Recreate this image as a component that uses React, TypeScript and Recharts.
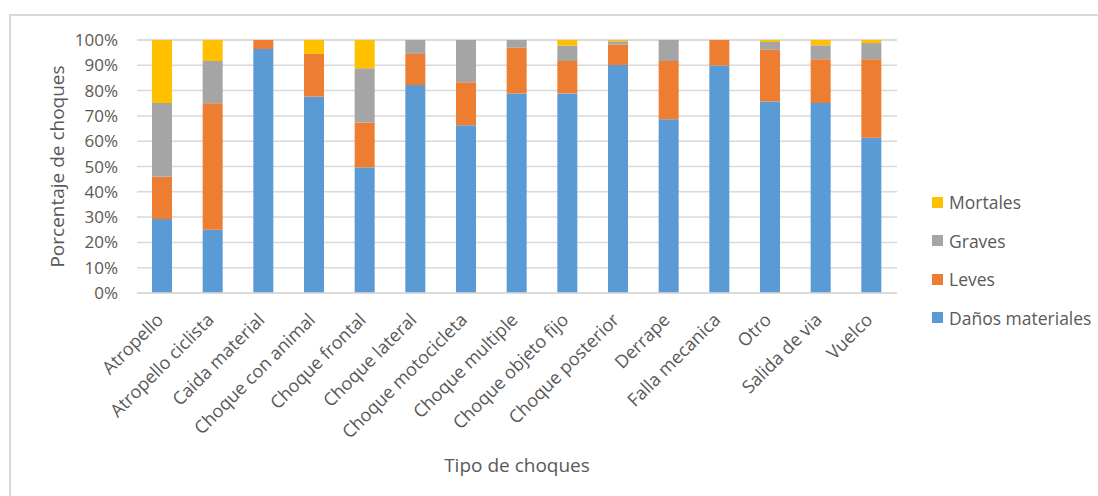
import React from "react";
import { BarChart, Bar, XAxis, YAxis, CartesianGrid, Label } from "recharts";

// Collision types along the category axis
const categories = [
  "Atropello",
  "Atropello ciclista",
  "Caida material",
  "Choque con animal",
  "Choque frontal",
  "Choque lateral",
  "Choque motocicleta",
  "Choque multiple",
  "Choque objeto fijo",
  "Choque posterior",
  "Derrape",
  "Falla mecanica",
  "Otro",
  "Salida de via",
  "Vuelco",
];

// Share of each severity per collision type (percent)
const danosMateriales = [29.2, 25.0, 96.4, 77.6, 49.6, 82.2, 66.3, 78.9, 78.9, 90.1, 68.7, 89.9, 75.7, 75.1, 61.4];
const leves = [16.7, 50.0, 3.6, 16.9, 17.8, 12.3, 17.0, 18.1, 12.8, 8.1, 23.0, 10.1, 20.5, 17.3, 31.0];
const graves = [29.2, 16.7, 0, 0, 21.4, 5.5, 16.7, 3.0, 6.1, 1.3, 8.3, 0, 3.0, 5.5, 6.4];
const mortales = [24.9, 8.3, 0, 5.5, 11.2, 0, 0, 0, 2.2, 0.5, 0, 0, 0.8, 2.1, 1.2];

const yTicks = [0, 10, 20, 30, 40, 50, 60, 70, 80, 90, 100];

const series = [
  { key: "danos", name: "Daños materiales", color: "#5B9BD5", values: danosMateriales },
  { key: "leves", name: "Leves", color: "#ED7D31", values: leves },
  { key: "graves", name: "Graves", color: "#A5A5A5", values: graves },
  { key: "mortales", name: "Mortales", color: "#FFC000", values: mortales },
];

const data = categories.map((name, i) => {
  const row: Record<string, string | number> = { name };
  series.forEach((s) => {
    row[s.key] = s.values[i];
  });
  return row;
});

const FONT = "'Open Sans', 'DejaVu Sans', sans-serif";
const TEXT = "#595959";

const CategoryTick = (props: any) => {
  const { x, y, payload } = props;
  const ax = x + 2;
  const ay = y + 20;
  return (
    <text
      x={ax}
      y={ay}
      transform={`rotate(-45, ${ax}, ${ay})`}
      textAnchor="end"
      fill={TEXT}
      fontSize={18}
      fontFamily={FONT}
    >
      {payload.value}
    </text>
  );
};

export default function App() {
  return (
    <div
      style={{
        position: "absolute",
        left: 0,
        top: 0,
        width: 1098,
        height: 496,
        overflow: "hidden",
        background: "#fff",
        fontFamily: FONT,
      }}
    >
      <div
        style={{
          position: "absolute",
          left: 9,
          top: 14,
          width: 1110,
          height: 520,
          border: "2px solid #D9D9D9",
        }}
      />
      <div style={{ position: "absolute", left: 0, top: 0 }}>
        <BarChart
          width={1098}
          height={496}
          data={data}
          margin={{ top: 40, right: 201, left: 0, bottom: 0 }}
          barSize={20}
        >
          <CartesianGrid vertical={false} stroke="#D9D9D9" strokeWidth={1.5} />
          <XAxis
            dataKey="name"
            interval={0}
            height={203}
            tickLine={false}
            axisLine={{ stroke: "#D9D9D9", strokeWidth: 1.5 }}
            tick={<CategoryTick />}
          >
            <Label
              value="Tipo de choques"
              position="insideBottom"
              offset={24}
              fill={TEXT}
              fontSize={19}
              fontFamily={FONT}
            />
          </XAxis>
          <YAxis
            width={137}
            domain={[0, 100]}
            ticks={yTicks}
            interval={0}
            tickFormatter={(v: number) => `${v}%`}
            tickLine={false}
            axisLine={false}
            tickMargin={13}
            tick={{ fill: TEXT, fontSize: 17, fontFamily: FONT }}
          >
            <Label
              value="Porcentaje de choques"
              angle={-90}
              position="insideLeft"
              offset={57}
              fill={TEXT}
              fontSize={19}
              fontFamily={FONT}
              style={{ textAnchor: "middle" }}
            />
          </YAxis>
          {series.map((s) => (
            <Bar
              key={s.key}
              dataKey={s.key}
              name={s.name}
              stackId="a"
              fill={s.color}
              isAnimationActive={false}
            />
          ))}
        </BarChart>
      </div>
      <div style={{ position: "absolute", left: 932, top: 183 }}>
        {[...series].reverse().map((s) => (
          <div
            key={s.key}
            style={{
              display: "flex",
              alignItems: "center",
              height: 38.5,
              color: TEXT,
              fontSize: 17.5,
              whiteSpace: "nowrap",
            }}
          >
            <span
              style={{
                display: "inline-block",
                width: 11,
                height: 11,
                background: s.color,
                marginRight: 6,
              }}
            />
            {s.name}
          </div>
        ))}
      </div>
    </div>
  );
}
